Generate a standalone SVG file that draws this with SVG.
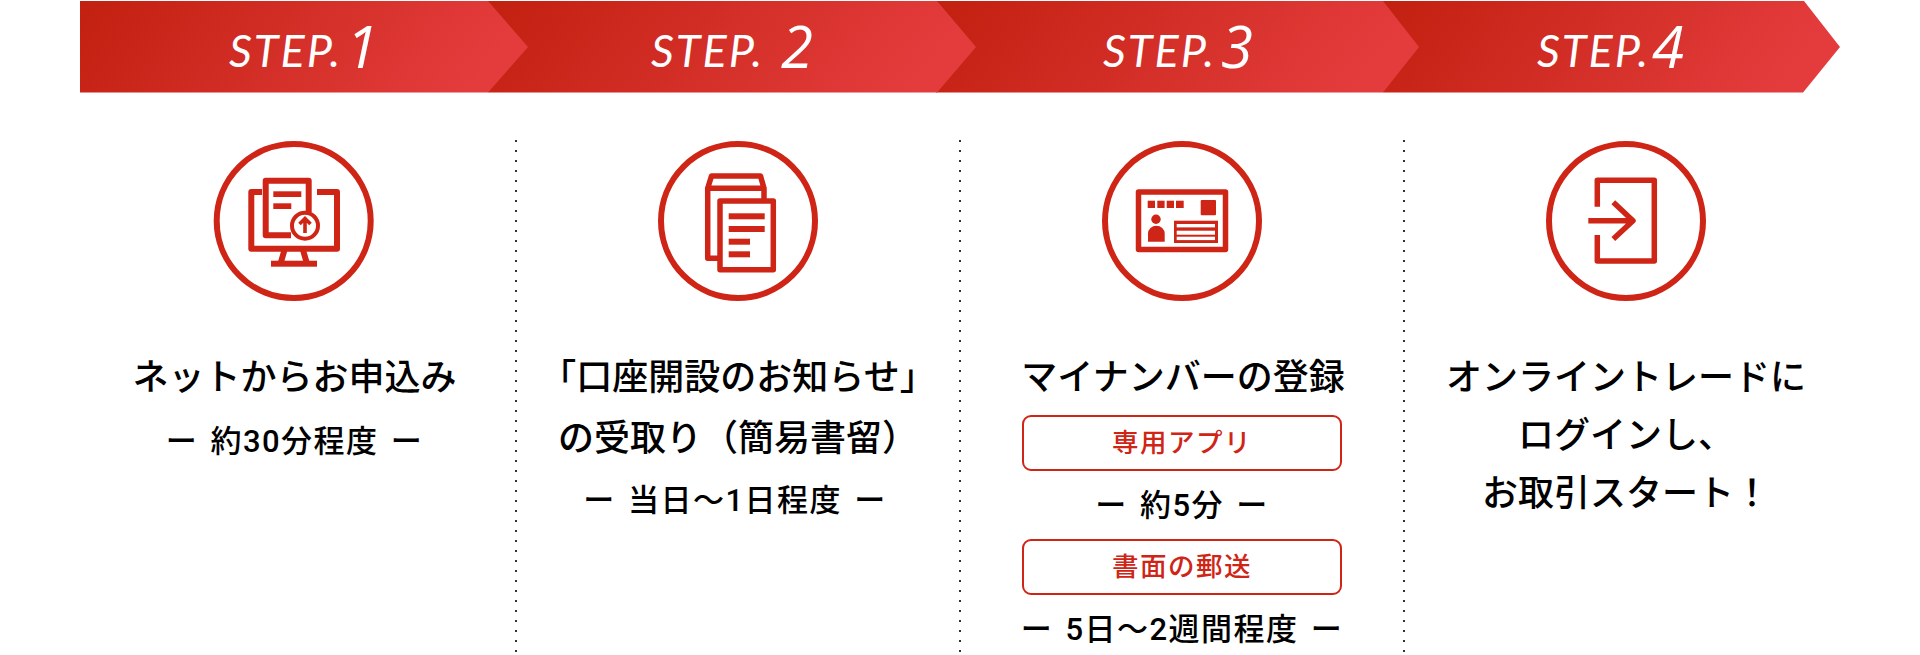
<svg xmlns="http://www.w3.org/2000/svg" width="1920" height="655" viewBox="0 0 1920 655">
<style>
.jp{font-family:"Noto Sans CJK JP","Noto Sans",sans-serif;text-anchor:middle;fill:#000}
.t{font-size:36px;font-weight:500}
.s{font-family:Roboto,"Noto Sans CJK JP",sans-serif;font-size:31px;font-weight:500;letter-spacing:1.5px;word-spacing:3px}
.r{font-size:26.5px;font-weight:500;fill:#cf2516;letter-spacing:1.5px}
.st{font-family:Lato,"Liberation Sans",sans-serif;font-style:italic;font-weight:400;fill:#fff;font-size:45px;letter-spacing:2px}
.num{font-family:"Open Sans",Lato,sans-serif;font-size:58px;font-weight:400;letter-spacing:0}
.ln{fill:none;stroke:#cf2516;stroke-width:5.5;stroke-linejoin:round}
.w6{stroke-width:6}
.f{fill:#cf2516}
.c{fill:none;stroke:#cf2516;stroke-width:6}
.box{fill:#fff;stroke:#cf2516;stroke-width:2}
.dot{stroke:#333;stroke-width:2;stroke-dasharray:2 8;fill:none}
</style>
<defs>
<linearGradient id="g" x1="0" y1="0" x2="1" y2="0.15"><stop offset="0" stop-color="#c22010"/><stop offset="1" stop-color="#e43c3d"/></linearGradient>
</defs>
<g id="step4"><polygon points="1383,1 1804,1 1840,47 1803,92.5 1383,92.5" fill="url(#g)"/>
<text class="st" x="1537" y="67">STEP.<tspan class="num" x="1652" y="68">4</tspan></text></g>
<g id="step3"><polygon points="936,1 1383,1 1419,47 1383,92.5 936,92.5" fill="url(#g)"/>
<text class="st" x="1103" y="67">STEP.<tspan class="num" x="1221" y="68">3</tspan></text></g>
<g id="step2"><polygon points="488,1 937,1 976,47 937,92.5 488,92.5" fill="url(#g)"/>
<text class="st" x="651" y="67">STEP.<tspan class="num" x="781" y="68">2</tspan></text></g>
<g id="step1"><polygon points="80,1 488,1 528,47 488,92.5 80,92.5" fill="url(#g)"/>
<text class="st" x="229" y="67">STEP.<tspan class="num" x="346" y="68">1</tspan></text></g>

<g id="connectors">
<path class="dot" d="M516 140V655M960 140V655M1404 140V655"/>
</g>

<g id="node1">
<circle class="c" cx="293.7" cy="221" r="77"/>
<path class="ln w6" d="M262 192H251.3V248.7H337V192H317"/>
<path class="ln w6" d="M291 235.3H265.7V180.7H308.7V212"/>
<rect class="f" x="273.3" y="191.3" width="28" height="5.7"/>
<rect class="f" x="273.3" y="203.3" width="18" height="5.7"/>
<circle cx="305" cy="225.7" r="13" fill="#fff" stroke="#cf2516" stroke-width="4"/>
<path d="M305 233V219M299.5 224L305 218.5L310.5 224" fill="none" stroke="#cf2516" stroke-width="3.6"/>
<path class="ln w6" d="M284.5 250L281 262M303 250L306.5 262"/>
<rect class="f" x="271" y="260.7" width="46" height="6"/>
</g>
<g id="node2">
<circle class="c" cx="738" cy="221" r="77"/>
<path class="ln" d="M718 258.3H707.7V188.3H764V200M707.7 188.3L711.5 176H760.5L764 188.3"/>
<rect class="ln" x="720" y="201" width="53.3" height="68.7"/>
<rect class="f" x="728.7" y="213.3" width="36" height="6"/>
<rect class="f" x="728.7" y="226" width="36" height="6"/>
<rect class="f" x="728.7" y="238.7" width="21.3" height="6"/>
<rect class="f" x="728.7" y="251.3" width="21.3" height="6"/>
</g>
<g id="node3">
<circle class="c" cx="1182" cy="221" r="77"/>
<rect class="ln" x="1138.5" y="192" width="87" height="57.5"/>
<rect class="f" x="1147.7" y="200.7" width="7.3" height="7.3"/>
<rect class="f" x="1157.3" y="200.7" width="7.3" height="7.3"/>
<rect class="f" x="1166.7" y="200.7" width="7.3" height="7.3"/>
<rect class="f" x="1176" y="200.7" width="7.7" height="7.3"/>
<rect class="f" x="1200.7" y="200" width="15.3" height="15.3" rx="1"/>
<circle class="f" cx="1156" cy="219.3" r="4.7"/>
<path class="f" d="M1148 241.7V233.7A8.3 8 0 0 1 1164.7 233.7V241.7Z"/>
<rect class="f" x="1174" y="220.7" width="44" height="22.3"/>
<rect fill="#fff" x="1176.7" y="224" width="38.3" height="3.4"/>
<rect fill="#fff" x="1176.7" y="230.7" width="38.3" height="4"/>
<rect fill="#fff" x="1176.7" y="236.7" width="38.3" height="3.4"/>
</g>
<g id="node4">
<circle class="c" cx="1626" cy="221" r="77"/>
<path class="ln" d="M1597.3 206.7V180.3H1654.3V261H1597.3V235"/>
<path class="ln" d="M1588.3 220.7H1632M1613.3 202.3L1633 220.7L1613.3 239" stroke-linejoin="miter"/>
</g>

<text class="jp t" x="294.5" y="390">ネットからお申込み</text>
<text class="jp s" x="294.5" y="452">ー 約30分程度 ー</text>
<text class="jp t" x="738" y="390">「口座開設のお知らせ」</text>
<text class="jp t" x="738" y="451">の受取り（簡易書留）</text>
<text class="jp s" x="735" y="511">ー 当日～1日程度 ー</text>
<text class="jp t" x="1183" y="390">マイナンバーの登録</text>
<g id="box1"><rect class="box" x="1023" y="416" width="318" height="54" rx="8"/>
<text class="jp r" x="1182" y="452">専用アプリ</text></g>
<text class="jp s" x="1182" y="516">ー 約5分 ー</text>
<g id="box2"><rect class="box" x="1023" y="540" width="318" height="54" rx="8"/>
<text class="jp r" x="1182" y="576">書面の郵送</text></g>
<text class="jp s" x="1182" y="640">ー 5日～2週間程度 ー</text>
<text class="jp t" x="1626" y="390">オンライントレードに</text>
<text class="jp t" x="1626" y="448">ログインし、</text>
<text class="jp t" x="1626" y="506">お取引スタート！</text>
</svg>
